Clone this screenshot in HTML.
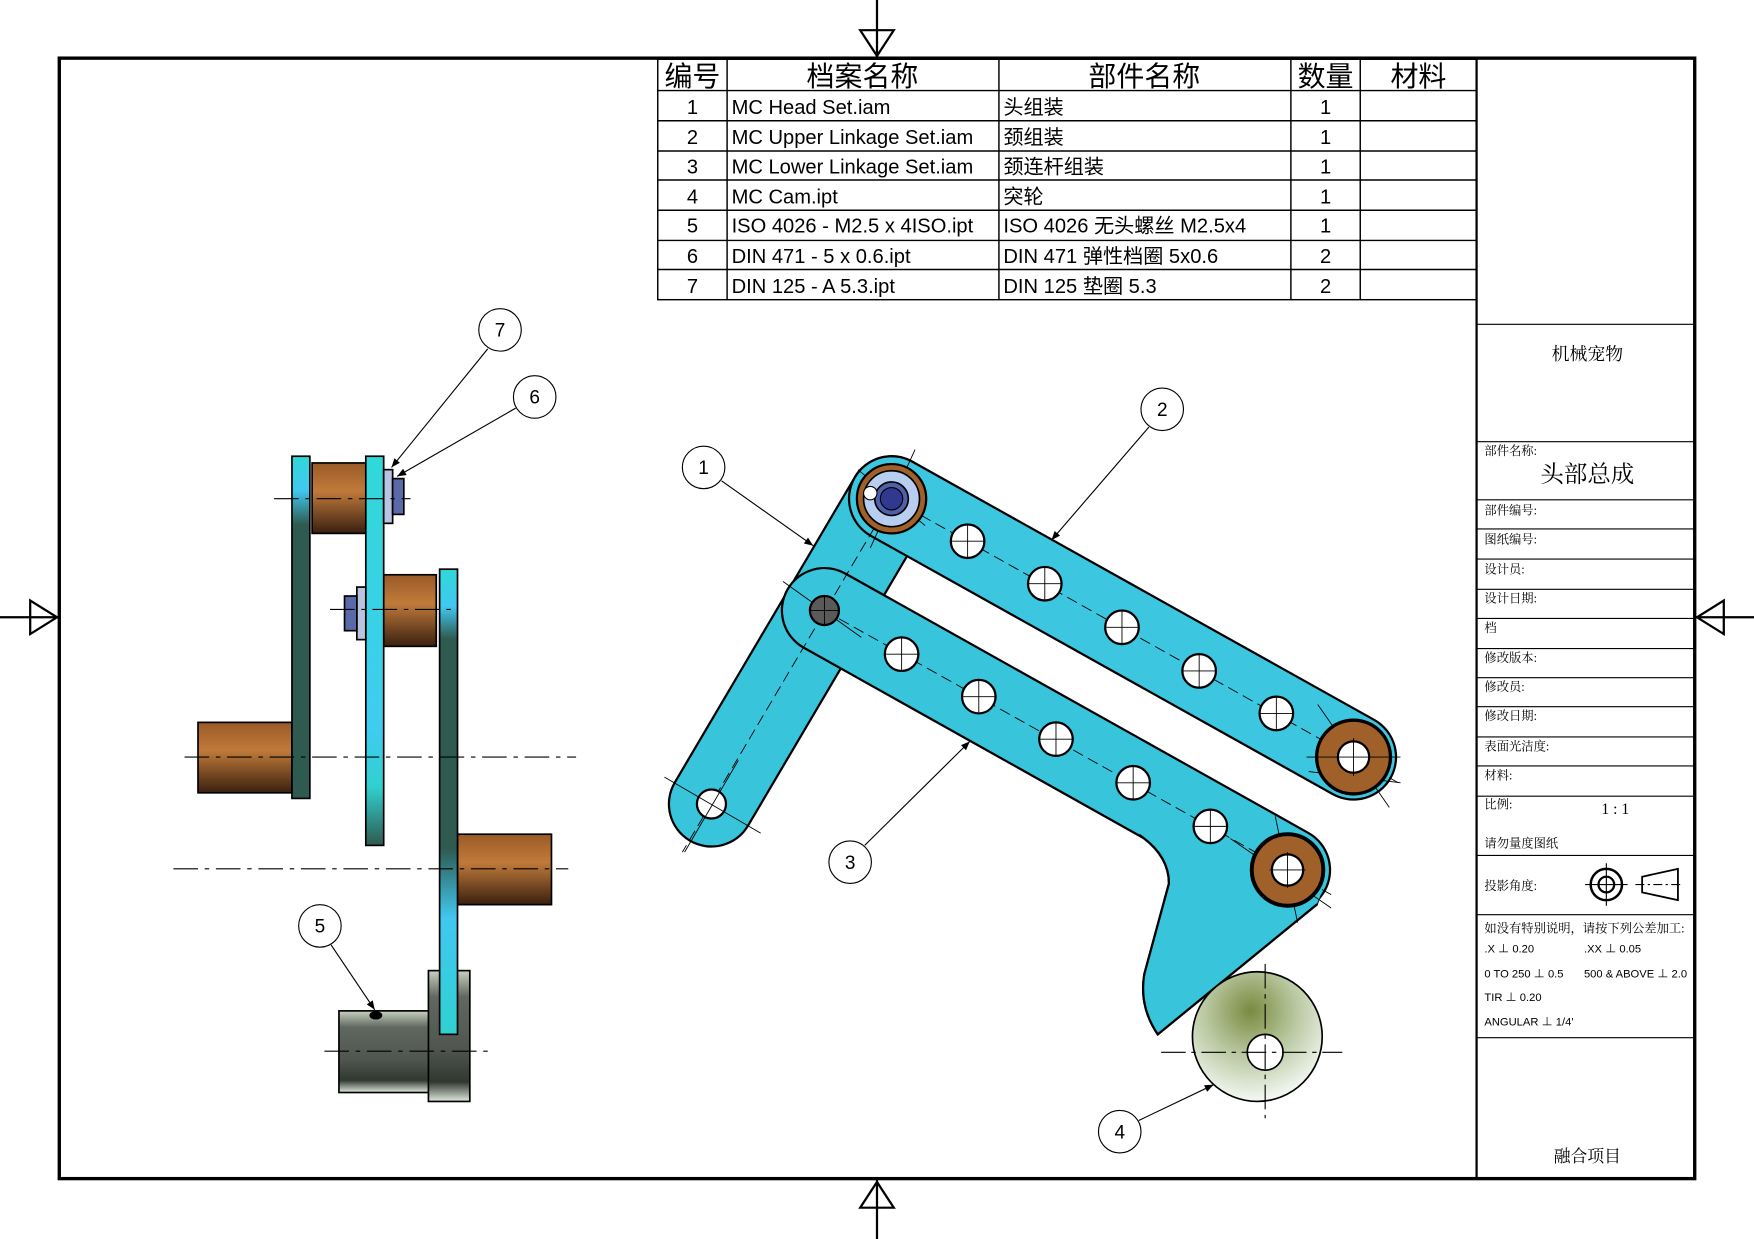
<!DOCTYPE html>
<html><head><meta charset="utf-8"><style>
html,body{margin:0;padding:0;background:#fff;}
svg{display:block;}
text{font-family:"Liberation Sans","Noto Sans CJK SC",sans-serif;fill:#000;}
.s{font-family:"Liberation Serif","Noto Serif CJK SC",serif;}
</style></head><body>
<svg width="1754" height="1239" viewBox="0 0 1568 1108" preserveAspectRatio="none" xmlns="http://www.w3.org/2000/svg">
<defs>
<linearGradient id="br" x1="0" y1="0" x2="0" y2="1"><stop offset="0" stop-color="#9a5a28"/><stop offset="0.4" stop-color="#c07a3a"/><stop offset="1" stop-color="#3a2010"/></linearGradient>
<linearGradient id="plA" x1="0" y1="0" x2="0" y2="1"><stop offset="0" stop-color="#30d8d8"/><stop offset="0.1" stop-color="#40c8f0"/><stop offset="0.2" stop-color="#2f5a50"/><stop offset="1" stop-color="#2f5a50"/></linearGradient>
<linearGradient id="plB" x1="0" y1="0" x2="0" y2="1"><stop offset="0" stop-color="#30d8d8"/><stop offset="0.7" stop-color="#40ccf0"/><stop offset="0.85" stop-color="#30d0d0"/><stop offset="1" stop-color="#2f5a50"/></linearGradient>
<linearGradient id="plC" x1="0" y1="0" x2="0" y2="1"><stop offset="0" stop-color="#30d8d8"/><stop offset="0.08" stop-color="#40c8f0"/><stop offset="0.15" stop-color="#2f5a50"/><stop offset="0.6" stop-color="#2f5a50"/><stop offset="0.75" stop-color="#40c8f0"/><stop offset="1" stop-color="#30d0d0"/></linearGradient>
<linearGradient id="gr" x1="0" y1="0" x2="0" y2="1"><stop offset="0" stop-color="#c8d0c0"/><stop offset="0.2" stop-color="#606860"/><stop offset="0.6" stop-color="#505550"/><stop offset="0.85" stop-color="#303830"/><stop offset="1" stop-color="#e0e8e0"/></linearGradient>
<radialGradient id="cam" cx="0.45" cy="0.3" r="0.7"><stop offset="0" stop-color="#7a8a40"/><stop offset="0.5" stop-color="#b8c8a0"/><stop offset="1" stop-color="#f4f8f4"/></radialGradient>
<marker id="ar" viewBox="0 0 10 10" refX="10" refY="5" markerWidth="10" markerHeight="8" orient="auto" markerUnits="userSpaceOnUse"><path d="M0,1 L10,5 L0,9 z" fill="#000"/></marker>
</defs>

<!-- frame -->
<rect x="53" y="52" width="1462" height="1002" fill="none" stroke="#000" stroke-width="3"/>
<line x1="1320" y1="52" x2="1320" y2="1054" stroke="#000" stroke-width="2"/>
<!-- centering marks -->
<g stroke="#000" stroke-width="2" fill="none">
<line x1="784" y1="0" x2="784" y2="52"/><path d="M769,27 L799,27 L784,50 z"/>
<line x1="784" y1="1054" x2="784" y2="1108"/><path d="M769,1080 L799,1080 L784,1057 z"/>
<line x1="0" y1="552" x2="53" y2="552"/><path d="M27,537 L27,567 L51,552 z"/>
<line x1="1515" y1="552" x2="1568" y2="552"/><path d="M1541,537 L1541,567 L1517,552 z"/>
</g>

<!-- BOM table -->
<g stroke="#000" stroke-width="1.3" fill="none">
<rect x="588" y="53" width="732" height="215"/>
<line x1="650" y1="53" x2="650" y2="268"/><line x1="893" y1="53" x2="893" y2="268"/>
<line x1="1154" y1="53" x2="1154" y2="268"/><line x1="1216" y1="53" x2="1216" y2="268"/>
<line x1="588" y1="81" x2="1320" y2="81"/><line x1="588" y1="108" x2="1320" y2="108"/>
<line x1="588" y1="135" x2="1320" y2="135"/><line x1="588" y1="161" x2="1320" y2="161"/>
<line x1="588" y1="188" x2="1320" y2="188"/><line x1="588" y1="215" x2="1320" y2="215"/>
<line x1="588" y1="241" x2="1320" y2="241"/>
</g>
<g font-size="25" text-anchor="middle">
<text x="619" y="77">编号</text><text x="771" y="77">档案名称</text><text x="1023" y="77">部件名称</text><text x="1185" y="77">数量</text><text x="1268" y="77">材料</text>
</g>
<g font-size="18">
<g text-anchor="middle"><text x="619" y="102">1</text><text x="619" y="129">2</text><text x="619" y="155">3</text><text x="619" y="182">4</text><text x="619" y="208">5</text><text x="619" y="235">6</text><text x="619" y="262">7</text>
<text x="1185" y="102">1</text><text x="1185" y="129">1</text><text x="1185" y="155">1</text><text x="1185" y="182">1</text><text x="1185" y="208">1</text><text x="1185" y="235">2</text><text x="1185" y="262">2</text></g>
<text x="654" y="102">MC Head Set.iam</text>
<text x="654" y="129">MC Upper Linkage Set.iam</text>
<text x="654" y="155">MC Lower Linkage Set.iam</text>
<text x="654" y="182">MC Cam.ipt</text>
<text x="654" y="208">ISO 4026 - M2.5 x 4ISO.ipt</text>
<text x="654" y="235">DIN 471 - 5 x 0.6.ipt</text>
<text x="654" y="262">DIN 125 - A 5.3.ipt</text>
<text x="897" y="102">头组装</text>
<text x="897" y="129">颈组装</text>
<text x="897" y="155">颈连杆组装</text>
<text x="897" y="182">突轮</text>
<text x="897" y="208">ISO 4026 无头螺丝 M2.5x4</text>
<text x="897" y="235">DIN 471 弹性档圈 5x0.6</text>
<text x="897" y="262">DIN 125 垫圈 5.3</text>
</g>

<!-- title block -->
<g stroke="#000" stroke-width="1">
<line x1="1320" y1="290" x2="1515" y2="290"/><line x1="1320" y1="395" x2="1515" y2="395"/>
<line x1="1320" y1="447" x2="1515" y2="447"/><line x1="1320" y1="473" x2="1515" y2="473"/>
<line x1="1320" y1="500" x2="1515" y2="500"/><line x1="1320" y1="527" x2="1515" y2="527"/>
<line x1="1320" y1="553" x2="1515" y2="553"/><line x1="1320" y1="580" x2="1515" y2="580"/>
<line x1="1320" y1="606" x2="1515" y2="606"/><line x1="1320" y1="632" x2="1515" y2="632"/>
<line x1="1320" y1="659" x2="1515" y2="659"/><line x1="1320" y1="685" x2="1515" y2="685"/>
<line x1="1320" y1="712" x2="1515" y2="712"/><line x1="1320" y1="765" x2="1515" y2="765"/>
<line x1="1320" y1="818" x2="1515" y2="818"/><line x1="1320" y1="928" x2="1515" y2="928"/>
</g>
<g class="s" font-size="11">
<text class="s" x="1419" y="322" font-size="16" text-anchor="middle">机械宠物</text>
<text class="s" x="1327" y="407">部件名称:</text>
<text class="s" x="1419" y="431" font-size="21" text-anchor="middle">头部总成</text>
<text class="s" x="1327" y="460">部件编号:</text>
<text class="s" x="1327" y="486">图纸编号:</text>
<text class="s" x="1327" y="513">设计员:</text>
<text class="s" x="1327" y="539">设计日期:</text>
<text class="s" x="1327" y="565">档</text>
<text class="s" x="1327" y="592">修改版本:</text>
<text class="s" x="1327" y="618">修改员:</text>
<text class="s" x="1327" y="644">修改日期:</text>
<text class="s" x="1327" y="671">表面光洁度:</text>
<text class="s" x="1327" y="697">材料:</text>
<text class="s" x="1327" y="723">比例:</text>
<text class="s" x="1444" y="728" font-size="14" text-anchor="middle">1 : 1</text>
<text class="s" x="1327" y="758">请勿量度图纸</text>
<text class="s" x="1327" y="796">投影角度:</text>
<text class="s" x="1327" y="834">如没有特别说明，请按下列公差加工:</text>
<text class="s" x="1419" y="1039" font-size="15" text-anchor="middle">融合项目</text>
</g>
<g font-size="10">
<text x="1327" y="852">.X ⊥ 0.20</text><text x="1416" y="852">.XX ⊥ 0.05</text>
<text x="1327" y="874">0 TO 250 ⊥ 0.5</text><text x="1416" y="874">500 &amp; ABOVE ⊥ 2.0</text>
<text x="1327" y="895">TIR ⊥ 0.20</text>
<text x="1327" y="917">ANGULAR ⊥ 1/4'</text>
</g>
<g stroke="#000" fill="none">
<circle cx="1436" cy="791" r="14" stroke-width="2.2"/><circle cx="1436" cy="791" r="7" stroke-width="2"/>
<line x1="1417" y1="791" x2="1455" y2="791" stroke-width="1"/><line x1="1436" y1="772" x2="1436" y2="810" stroke-width="1"/>
<path d="M1468,784 L1500,777 L1500,805 L1468,798 z" stroke-width="1.6"/>
<line x1="1462" y1="791" x2="1503" y2="791" stroke-width="1" stroke-dasharray="8,3,2,3"/>
</g>

<!-- LEFT VIEW -->
<g stroke="#000" stroke-width="1.5">
<rect x="177" y="646" width="84" height="63" fill="url(#br)"/>
<rect x="279" y="414" width="50" height="63" fill="url(#br)"/>
<rect x="343" y="514" width="47" height="64" fill="url(#br)"/>
<rect x="409" y="746" width="84" height="63" fill="url(#br)"/>
<rect x="261" y="408" width="16" height="306" fill="url(#plA)"/>
<rect x="327" y="408" width="16" height="348" fill="url(#plB)"/>
<rect x="303" y="904" width="82" height="73" fill="url(#gr)"/>
<rect x="383" y="868" width="37" height="117" fill="url(#gr)"/>
<rect x="393" y="509" width="16" height="416" fill="url(#plC)"/>
<rect x="343" y="420" width="8" height="48" fill="#b8c4e0"/>
<rect x="351" y="428" width="10" height="32" fill="#5a6aa8"/>
<rect x="319" y="525" width="8" height="47" fill="#b8c4e0"/>
<rect x="308" y="533" width="11" height="31" fill="#5a6aa8"/>
<ellipse cx="336" cy="908" rx="5" ry="3" fill="#000"/>
</g>
<g stroke="#000" stroke-width="1" stroke-dasharray="22,6,4,6" fill="none">
<line x1="245" y1="446" x2="367" y2="446"/>
<line x1="295" y1="545" x2="405" y2="545"/>
<line x1="165" y1="677" x2="515" y2="677"/>
<line x1="155" y1="777" x2="508" y2="777"/>
<line x1="290" y1="940" x2="440" y2="940"/>
</g>

<!-- FRONT VIEW: links -->
<g stroke-linecap="round">
<line x1="797" y1="446" x2="636" y2="719" stroke="#000" stroke-width="78"/>
<line x1="797" y1="446" x2="636" y2="719" stroke="#38c4da" stroke-width="74"/>
<line x1="797" y1="446" x2="1210" y2="677" stroke="#000" stroke-width="78"/>
<line x1="797" y1="446" x2="1210" y2="677" stroke="#3cc6e0" stroke-width="74"/>
<path d="M1019,747 Q1045,765 1045,790 L1023,871 Q1018,900 1035,925 L1177,809 L1187,780 L1140,740 z" fill="#38c4da" stroke="#000" stroke-width="2" stroke-linecap="butt"/>
<line x1="737" y1="546" x2="1151" y2="778" stroke="#000" stroke-width="78"/>
<line x1="737" y1="546" x2="1151" y2="778" stroke="#38c4da" stroke-width="74"/>
<path d="M1000,700 L1160,745 L1185,790 L1177,809 L1035,925 Q1018,900 1023,871 L1045,790 Q1045,765 1019,747 z" fill="#38c4da"/>
<path d="M1045,790 Q1045,765 1019,747 M1045,790 L1023,871 Q1018,900 1035,925 L1177,809" fill="none" stroke="#000" stroke-width="2"/>
</g>
<!-- center lines on links -->
<g stroke="#000" stroke-width="0.8" stroke-dasharray="10,5" fill="none">
<line x1="797" y1="446" x2="1250" y2="700"/>
<line x1="737" y1="546" x2="1190" y2="800"/>
<line x1="797" y1="446" x2="610" y2="762"/>
</g>
<!-- holes -->
<g fill="#fff" stroke="#000" stroke-width="2">
<circle cx="865" cy="484" r="15"/><circle cx="934" cy="522" r="15"/><circle cx="1003" cy="561" r="15"/><circle cx="1072" cy="600" r="15"/><circle cx="1141" cy="638" r="15"/>
<circle cx="806" cy="585" r="15"/><circle cx="875" cy="623" r="15"/><circle cx="944" cy="661" r="15"/><circle cx="1013" cy="700" r="15"/><circle cx="1082" cy="739" r="15"/>
<circle cx="636" cy="719" r="13"/>
</g>
<g stroke="#000" stroke-width="0.8">
<line x1="850" y1="484" x2="880" y2="484"/><line x1="865" y1="469" x2="865" y2="499"/>
<line x1="919" y1="522" x2="949" y2="522"/><line x1="934" y1="507" x2="934" y2="537"/>
<line x1="988" y1="561" x2="1018" y2="561"/><line x1="1003" y1="546" x2="1003" y2="576"/>
<line x1="1057" y1="600" x2="1087" y2="600"/><line x1="1072" y1="585" x2="1072" y2="615"/>
<line x1="1126" y1="638" x2="1156" y2="638"/><line x1="1141" y1="623" x2="1141" y2="653"/>
<line x1="791" y1="585" x2="821" y2="585"/><line x1="806" y1="570" x2="806" y2="600"/>
<line x1="860" y1="623" x2="890" y2="623"/><line x1="875" y1="608" x2="875" y2="638"/>
<line x1="929" y1="661" x2="959" y2="661"/><line x1="944" y1="646" x2="944" y2="676"/>
<line x1="998" y1="700" x2="1028" y2="700"/><line x1="1013" y1="685" x2="1013" y2="715"/>
<line x1="1067" y1="739" x2="1097" y2="739"/><line x1="1082" y1="724" x2="1082" y2="754"/>
<line x1="594" y1="695" x2="680" y2="745"/><line x1="612" y1="762" x2="660" y2="680"/>
<line x1="1178" y1="630" x2="1242" y2="722"/><line x1="1170" y1="690" x2="1252" y2="700"/>
<line x1="1100" y1="750" x2="1190" y2="812"/><line x1="1140" y1="730" x2="1160" y2="825"/>
<line x1="767" y1="420" x2="827" y2="470"/><line x1="818" y1="402" x2="778" y2="490"/>
<line x1="700" y1="520" x2="770" y2="570"/>
</g>
<!-- bushings -->
<circle cx="1210" cy="677" r="33" fill="#a0602a" stroke="#000" stroke-width="3"/>
<circle cx="1210" cy="677" r="14" fill="#fff" stroke="#000" stroke-width="2"/>
<circle cx="1151" cy="778" r="32" fill="#a0602a" stroke="#000" stroke-width="3.5"/>
<circle cx="1151" cy="778" r="14" fill="#fff" stroke="#000" stroke-width="2"/>
<circle cx="797" cy="446" r="31" fill="#a0602a" stroke="#000" stroke-width="2"/>
<circle cx="797" cy="446" r="25" fill="#b8cef0" stroke="#000" stroke-width="1.5"/>
<circle cx="797" cy="446" r="15" fill="#5060a8" stroke="#000" stroke-width="1.5"/>
<circle cx="797" cy="446" r="10" fill="#303890" stroke="#000" stroke-width="1"/>
<circle cx="778" cy="441" r="6" fill="#fff" stroke="#000" stroke-width="1"/>
<circle cx="737" cy="546" r="13" fill="#5a5a5a" stroke="#000" stroke-width="2"/>
<g stroke="#000" stroke-width="0.8"><line x1="1168" y1="677" x2="1252" y2="677" stroke-dasharray="0"/><line x1="1210" y1="660" x2="1210" y2="694"/><line x1="1135" y1="778" x2="1167" y2="778"/><line x1="1151" y1="762" x2="1151" y2="794"/><line x1="724" y1="546" x2="750" y2="546"/><line x1="737" y1="533" x2="737" y2="559"/></g>

<!-- cam -->
<circle cx="1124" cy="927" r="58" fill="url(#cam)" stroke="#000" stroke-width="1.5"/>
<circle cx="1131" cy="941" r="16" fill="#fff" stroke="#000" stroke-width="1.5"/>
<g stroke="#000" stroke-width="1" stroke-dasharray="22,5,4,5"><line x1="1038" y1="941" x2="1200" y2="941"/><line x1="1131" y1="862" x2="1131" y2="1000"/></g>

<!-- balloons -->
<g stroke="#000" stroke-width="1" fill="none">
<line x1="436" y1="312" x2="350" y2="418" marker-end="url(#ar)"/>
<line x1="461" y1="365" x2="355" y2="426" marker-end="url(#ar)"/>
<line x1="296" y1="845" x2="335" y2="903" marker-end="url(#ar)"/>
<line x1="645" y1="430" x2="727" y2="488" marker-end="url(#ar)"/>
<line x1="1027" y1="382" x2="940" y2="483" marker-end="url(#ar)"/>
<line x1="773" y1="756" x2="867" y2="663" marker-end="url(#ar)"/>
<line x1="1018" y1="1002" x2="1085" y2="970" marker-end="url(#ar)"/>
</g>
<g fill="#fff" stroke="#000" stroke-width="1">
<circle cx="447" cy="295" r="19"/><circle cx="478" cy="355" r="19"/><circle cx="286" cy="828" r="19"/>
<circle cx="629" cy="418" r="19"/><circle cx="1039" cy="366" r="19"/><circle cx="760" cy="771" r="19"/><circle cx="1001" cy="1012" r="19"/>
</g>
<g font-size="17" text-anchor="middle">
<text x="447" y="301">7</text><text x="478" y="361">6</text><text x="286" y="834">5</text>
<text x="629" y="424">1</text><text x="1039" y="372">2</text><text x="760" y="777">3</text><text x="1001" y="1018">4</text>
</g>
</svg>
</body></html>
